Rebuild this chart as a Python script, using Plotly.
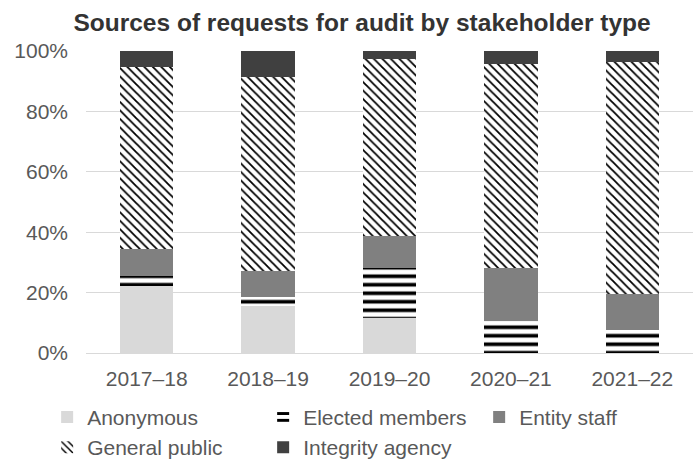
import plotly.graph_objects as go

years = ["2017–18", "2018–19", "2019–20", "2020–21", "2021–22"]
anonymous = [22.2, 15.6, 11.6, 0.0, 0.0]
elected = [3.2, 3.0, 16.4, 10.5, 7.5]
entity_staff = [9.0, 8.5, 10.8, 17.7, 12.0]
general_public = [60.2, 64.2, 58.5, 67.5, 76.8]
integrity = [5.4, 8.7, 2.7, 4.3, 3.7]

fig = go.Figure()
fig.add_trace(go.Bar(x=years, y=anonymous, name="Anonymous",
                     marker=dict(color="#d9d9d9", line=dict(width=0))))
fig.add_trace(go.Bar(x=years, y=elected, name="Elected members",
                     marker=dict(color="white", line=dict(width=0),
                                 pattern=dict(shape="-", fgcolor="black", bgcolor="white",
                                              size=8.5, solidity=0.43, fillmode="replace"))))
fig.add_trace(go.Bar(x=years, y=entity_staff, name="Entity staff",
                     marker=dict(color="#808080", line=dict(width=0))))
fig.add_trace(go.Bar(x=years, y=general_public, name="General public",
                     marker=dict(color="white", line=dict(width=0),
                                 pattern=dict(shape="\\", fgcolor="black", bgcolor="white",
                                              size=6, solidity=0.3, fillmode="replace"))))
fig.add_trace(go.Bar(x=years, y=integrity, name="Integrity agency",
                     marker=dict(color="#404040", line=dict(width=0))))

fig.update_layout(
    barmode="stack",
    bargap=0.56,
    width=699, height=461,
    margin=dict(l=86, r=6, t=51, b=108, autoexpand=False),
    paper_bgcolor="white", plot_bgcolor="white",
    font=dict(family="Liberation Sans, Arial, sans-serif", size=21, color="#595959"),
    title=dict(text="<b>Sources of requests for audit by stakeholder type</b>",
               x=0.518, xanchor="center", y=0.952, yanchor="middle",
               font=dict(size=24.5, color="#333333")),
    yaxis=dict(range=[0, 100], dtick=20, ticksuffix="%", showgrid=True,
               gridcolor="#d9d9d9", gridwidth=1.3, zeroline=False,
               showline=False, ticks="", ticklabelstandoff=17),
    xaxis=dict(showline=True, linecolor="#d9d9d9", linewidth=1.3, ticks="",
               ticklabelstandoff=7),
    legend=dict(orientation="h", x=-0.064, xanchor="left", y=-0.145, yanchor="top",
                entrywidth=171, entrywidthmode="pixels", traceorder="normal",
                font=dict(size=21, color="#595959"), itemwidth=30,
                tracegroupgap=0),
    showlegend=True,
)

fig.write_html("out.html")
